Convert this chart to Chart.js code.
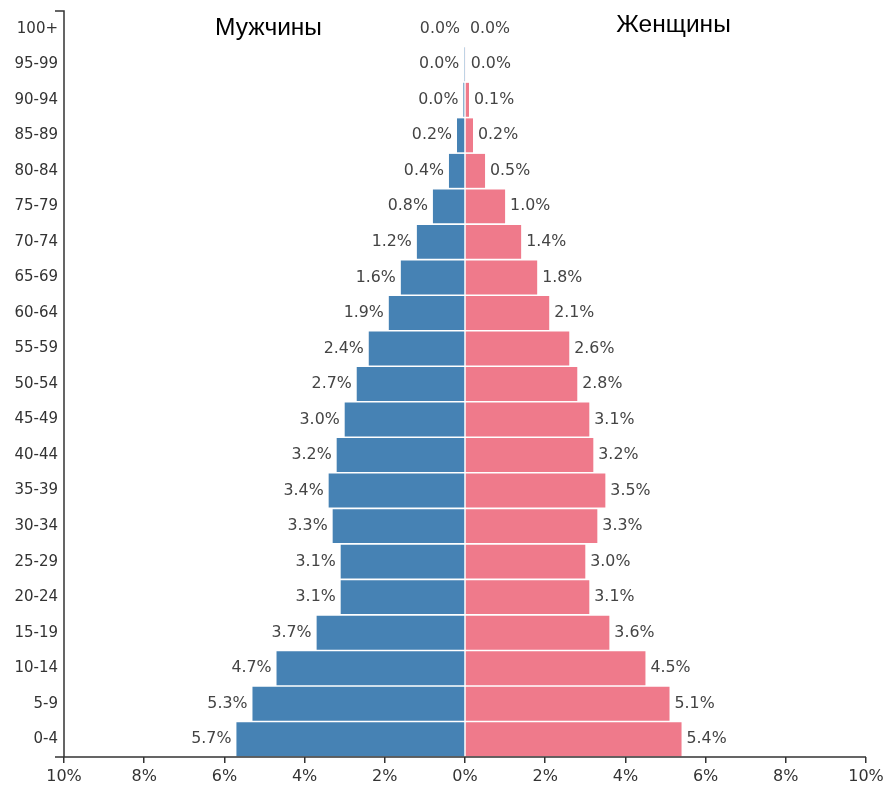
<!DOCTYPE html>
<html>
<head>
<meta charset="utf-8">
<script src="https://cdn.jsdelivr.net/npm/chart.js@4/dist/chart.umd.min.js"></script>
<style>
html,body{margin:0;padding:0;background:#fff;}
canvas{display:block;}
</style>
</head>
<body>
<canvas id="c" width="892" height="788"></canvas>
<script>
const ageGroups = ["100+","95-99","90-94","85-89","80-84","75-79","70-74","65-69","60-64","55-59","50-54","45-49","40-44","35-39","30-34","25-29","20-24","15-19","10-14","5-9","0-4"];
const maleValues = [0.0,0.01,0.04,0.2,0.4,0.8,1.2,1.6,1.9,2.4,2.7,3.0,3.2,3.4,3.3,3.1,3.1,3.7,4.7,5.3,5.7];
const femaleValues = [0.0,0.02,0.1,0.2,0.5,1.0,1.4,1.8,2.1,2.6,2.8,3.1,3.2,3.5,3.3,3.0,3.1,3.6,4.5,5.1,5.4];
const xTickValues = [-10,-8,-6,-4,-2,0,2,4,6,8,10];
const maleTitle = "Мужчины";
const femaleTitle = "Женщины";

const MALE_COLOR = "#4682B4";
const FEMALE_COLOR = "#EF7A8B";
const AXIS_COLOR = "#333333";
const FONT = "'DejaVu Sans', sans-serif";

const valueLabels = {
  id: 'valueLabels',
  afterDatasetsDraw(chart) {
    const ctx = chart.ctx;
    ctx.save();
    ctx.font = "15.8px " + FONT;
    ctx.fillStyle = "#444444";
    ctx.textBaseline = "middle";
    chart.data.datasets.forEach((ds, di) => {
      const meta = chart.getDatasetMeta(di);
      meta.data.forEach((bar, i) => {
        const v = Math.abs(ds.data[i]);
        const txt = v.toFixed(1) + "%";
        if (di === 0) {
          ctx.textAlign = "right";
          ctx.fillText(txt, Math.min(bar.x, bar.base) - 5, bar.y);
        } else {
          ctx.textAlign = "left";
          ctx.fillText(txt, Math.max(bar.x, bar.base) + 5, bar.y);
        }
      });
    });
    // side titles
    const xs = chart.scales.x;
    ctx.font = "24.5px 'Liberation Sans', Arial, sans-serif";
    ctx.fillStyle = "#000";
    ctx.textAlign = "center";
    ctx.fillText(maleTitle, xs.getPixelForValue(-4.9), 28);
    ctx.fillText(femaleTitle, xs.getPixelForValue(5.2), 25);
    ctx.restore();
  },
  afterDraw(chart) {
    const a = chart.chartArea;
    const ctx = chart.ctx;
    ctx.save();
    ctx.strokeStyle = AXIS_COLOR;
    ctx.lineWidth = 1.5;
    ctx.beginPath();
    // left spine with top cap
    ctx.moveTo(a.left - 9, a.top);
    ctx.lineTo(a.left, a.top);
    ctx.lineTo(a.left, a.bottom);
    // bottom spine
    ctx.moveTo(a.left - 9, a.bottom);
    ctx.lineTo(a.right, a.bottom);
    ctx.stroke();
    ctx.restore();
  }
};

new Chart(document.getElementById('c'), {
  type: 'bar',
  data: {
    labels: ageGroups,
    datasets: [
      { label: maleTitle, data: maleValues.map(v => -v), backgroundColor: MALE_COLOR, barPercentage: 0.955, categoryPercentage: 1.0, borderWidth: 0 },
      { label: femaleTitle, data: femaleValues, backgroundColor: FEMALE_COLOR, barPercentage: 0.955, categoryPercentage: 1.0, borderWidth: 0 }
    ]
  },
  options: {
    indexAxis: 'y',
    responsive: false,
    animation: false,
    layout: { padding: { top: 11, right: 26, left: 0, bottom: 0 } },
    plugins: { legend: { display: false }, tooltip: { enabled: false }, title: { display: false } },
    scales: {
      x: {
        stacked: true,
        min: -10, max: 10,
        afterBuildTicks(scale) { scale.ticks = xTickValues.map(v => ({ value: v })); },
        afterFit(scale) { scale.height = 31; scale.paddingLeft = 0; scale.paddingRight = 0; },
        ticks: {
          callback: (v) => Math.abs(v) + "%",
          font: { family: FONT, size: 16 },
          color: AXIS_COLOR,
          padding: 4,
          maxRotation: 0,
          autoSkip: false
        },
        grid: { drawOnChartArea: false, drawTicks: true, tickLength: 6, color: AXIS_COLOR, lineWidth: 1.5 },
        border: { display: false }
      },
      y: {
        stacked: true,
        afterFit(scale) { scale.width = 64; scale.paddingTop = 0; scale.paddingBottom = 0; },
        ticks: {
          font: { family: FONT, size: 15 },
          color: AXIS_COLOR,
          padding: 6,
          autoSkip: false
        },
        grid: { display: false, drawTicks: false },
        border: { display: false }
      }
    }
  },
  plugins: [valueLabels]
});
</script>
</body>
</html>
